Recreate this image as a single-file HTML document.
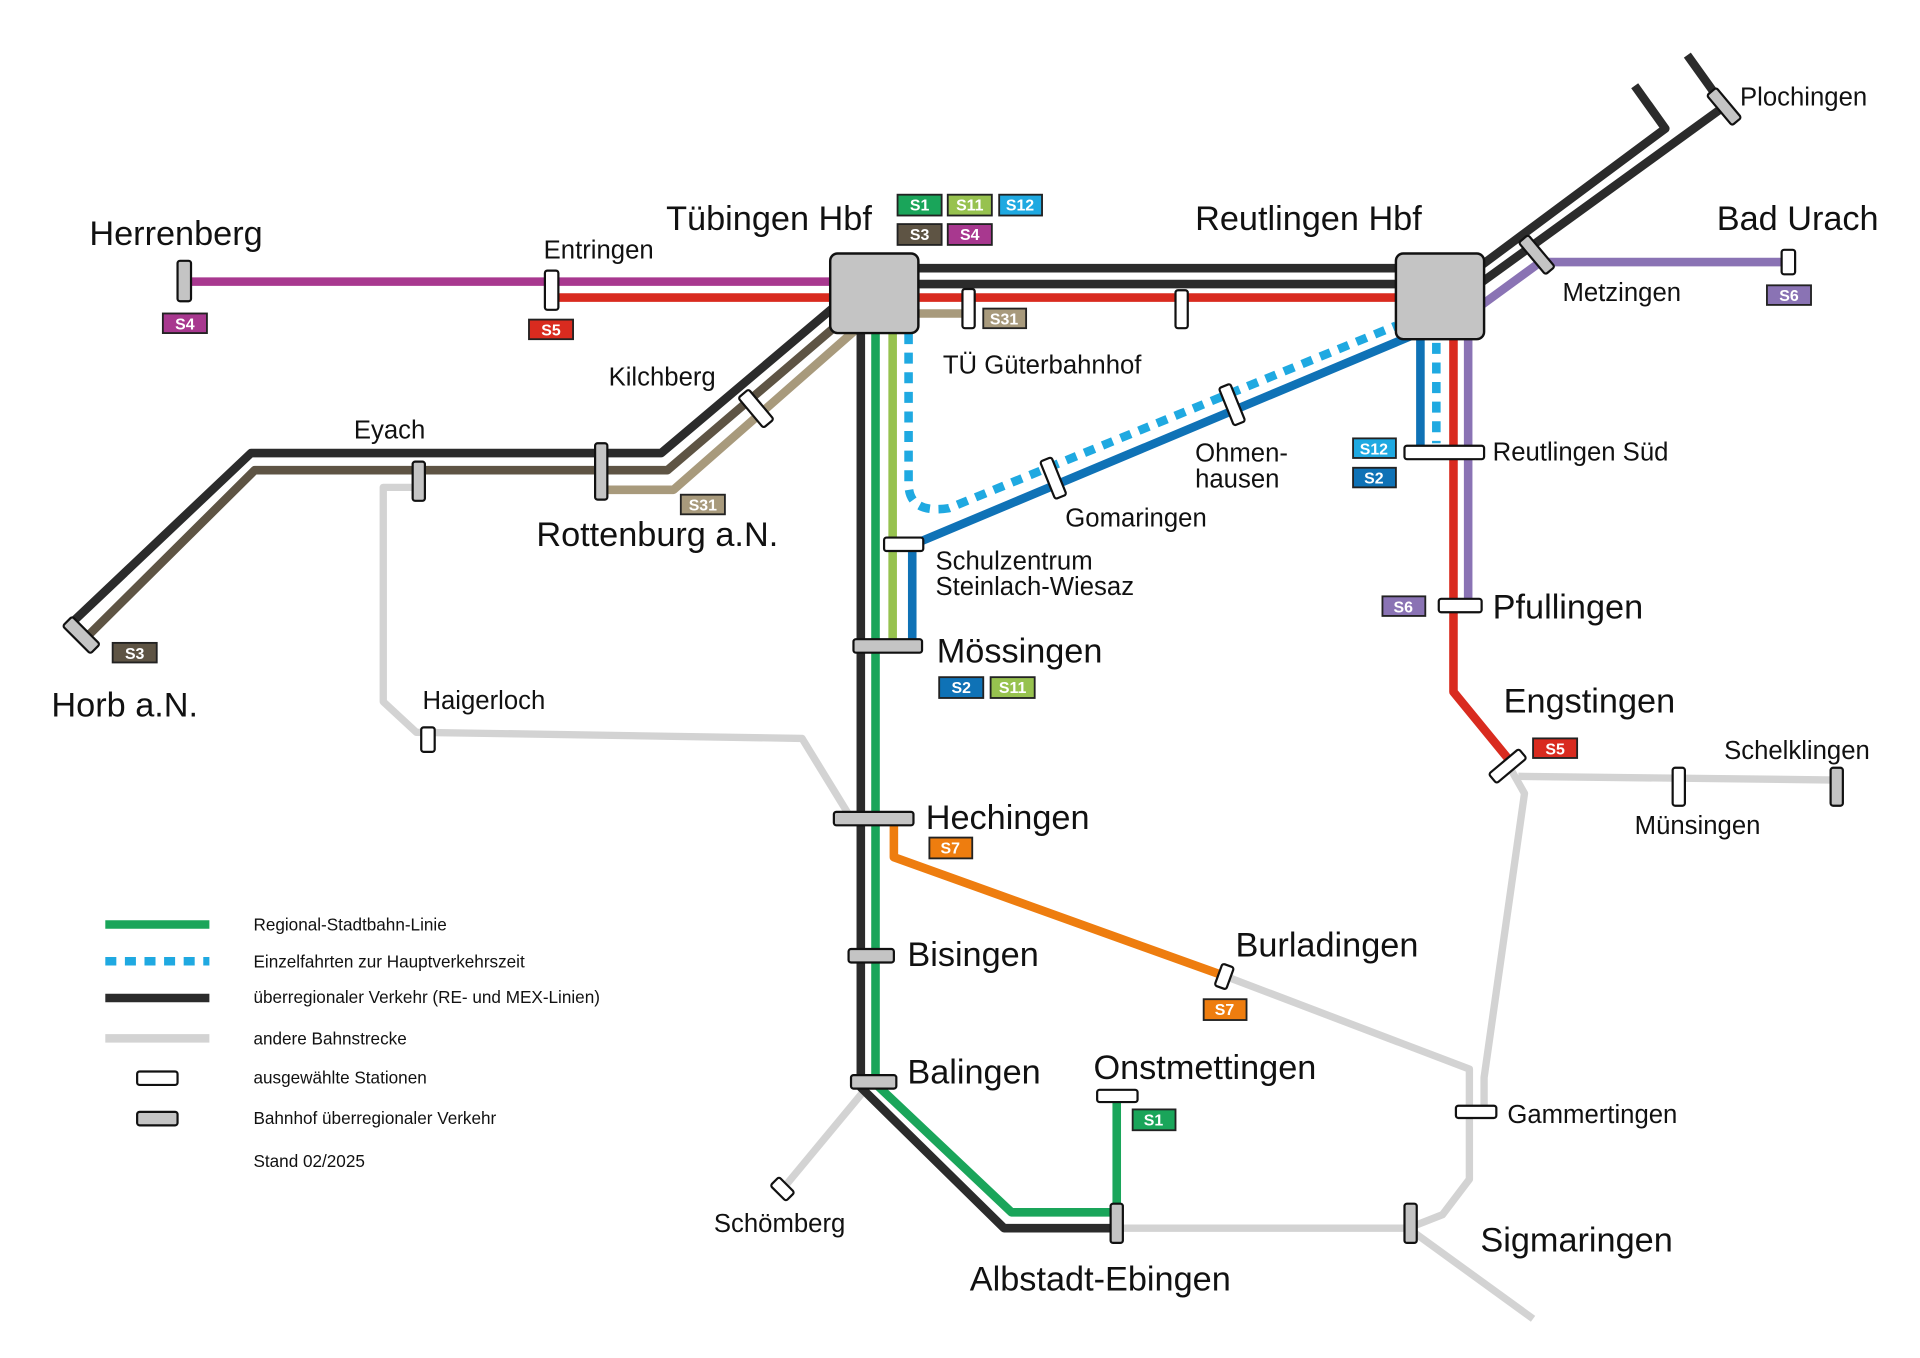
<!DOCTYPE html>
<html><head><meta charset="utf-8"><style>
html,body{margin:0;padding:0;background:#fff}
svg{display:block}
text{font-family:"Liberation Sans Narrow","Liberation Sans",sans-serif;fill:#111}
.b{font-size:28px}.m{font-size:21px}.s{font-size:14px}
.bd text{font-size:13px;fill:#fff;font-weight:bold;text-anchor:middle}
</style></head><body>
<svg width="1920" height="1358" viewBox="0 0 1568 1109" preserveAspectRatio="none" xmlns="http://www.w3.org/2000/svg">
<g fill="none" stroke-linejoin="round">
<g stroke="#d3d3d3" stroke-width="6">
<polyline points="342,398 313,398 313,573 340,598 655,603 693,665"/>
<polyline points="708,888 640,970"/>
<polyline points="912,1003 1150,1003 1178,992 1200,963 1200,873 1000,797"/>
<polyline points="1150,1003 1252,1077"/>
<polyline points="1232,625 1245,648 1212,880 1212,905"/>
<polyline points="1240,634 1500,637"/>
</g>
<line x1="150" y1="230" x2="690" y2="230" stroke="#a8388f" stroke-width="7"/>
<line x1="450" y1="243" x2="1160" y2="243" stroke="#d92b1f" stroke-width="7"/>
<polyline points="1187,270 1187,565 1232,620" stroke="#d92b1f" stroke-width="7"/>
<line x1="740" y1="219" x2="1150" y2="219" stroke="#2b2b2b" stroke-width="7"/>
<line x1="740" y1="232" x2="1150" y2="232" stroke="#2b2b2b" stroke-width="7"/>
<line x1="740" y1="256" x2="790" y2="256" stroke="#a89a7c" stroke-width="7"/>
<polyline points="698,270 550,400 495,400" stroke="#a89a7c" stroke-width="7"/>
<polyline points="690,260 545,384 208,384 68,523" stroke="#5e5444" stroke-width="7"/>
<polyline points="682,250 540,370 205,370 55,512" stroke="#2b2b2b" stroke-width="7"/>
<polyline points="703,265 703,888 820,1003 912,1003" stroke="#2b2b2b" stroke-width="7"/>
<polyline points="715,265 715,885 826,990 912,990 912,895" stroke="#1aa55a" stroke-width="7"/>
<line x1="729" y1="265" x2="729" y2="528" stroke="#97c24f" stroke-width="7"/>
<polyline points="745,528 745,445 1158,272" stroke="#0f72b6" stroke-width="7"/>
<line x1="1160" y1="272" x2="1160" y2="365" stroke="#0f72b6" stroke-width="7"/>
<path d="M742,272 L742,395 Q742,420 775,415 L1140,266" stroke="#1fa9e1" stroke-width="7" stroke-dasharray="9,7"/>
<line x1="1173" y1="280" x2="1173" y2="362" stroke="#1fa9e1" stroke-width="7" stroke-dasharray="9,7"/>
<polyline points="1199,272 1199,495" stroke="#8a73b4" stroke-width="7"/>
<polyline points="1206,252 1258,214 1460,214" stroke="#8a73b4" stroke-width="7"/>
<polyline points="1208,218 1360,105 1335,70" stroke="#2b2b2b" stroke-width="7"/>
<polyline points="1208,232 1408,87 1378,45" stroke="#2b2b2b" stroke-width="7"/>
<polyline points="730,670 730,700 1000,797" stroke="#ee7d0f" stroke-width="7"/>
</g>
<rect x="678" y="207" width="72" height="65" rx="6" fill="#c4c4c4" stroke="#111" stroke-width="2"/>
<rect x="1140" y="207" width="72" height="70" rx="6" fill="#c4c4c4" stroke="#111" stroke-width="2"/>
<g stroke="#111" stroke-width="1.8">
<rect x="145" y="213" width="11" height="33" rx="2" fill="#c4c4c4"/>
<rect x="445" y="221" width="11" height="32" rx="2" fill="#fff"/>
<rect x="786" y="236" width="10" height="32" rx="2" fill="#fff"/>
<rect x="960" y="237" width="10" height="31" rx="2" fill="#fff"/>
<rect x="612" y="318" width="11" height="32" rx="2" fill="#fff" transform="rotate(-40 617 334)"/>
<rect x="486" y="362" width="10" height="46" rx="2" fill="#c4c4c4"/>
<rect x="337" y="377" width="10" height="32" rx="2" fill="#c4c4c4"/>
<rect x="61" y="503" width="11" height="32" rx="2" fill="#c4c4c4" transform="rotate(-45 66 519)"/>
<rect x="344" y="594" width="11" height="20" rx="2" fill="#fff"/>
<rect x="855" y="374" width="10" height="33" rx="2" fill="#fff" transform="rotate(-22 860 390)"/>
<rect x="1001" y="314" width="10" height="33" rx="2" fill="#fff" transform="rotate(-22 1006 330)"/>
<rect x="722" y="439" width="32" height="11" rx="2" fill="#fff"/>
<rect x="697" y="522" width="56" height="11" rx="2" fill="#c4c4c4"/>
<rect x="681" y="663" width="65" height="11" rx="2" fill="#c4c4c4"/>
<rect x="693" y="775" width="37" height="11" rx="2" fill="#c4c4c4"/>
<rect x="695" y="878" width="37" height="11" rx="2" fill="#c4c4c4"/>
<rect x="907" y="983" width="10" height="32" rx="2" fill="#c4c4c4"/>
<rect x="896" y="890" width="33" height="10" rx="2" fill="#fff"/>
<rect x="634" y="962" width="10" height="18" rx="2" fill="#fff" transform="rotate(-45 639 971)"/>
<rect x="1147" y="983" width="10" height="32" rx="2" fill="#c4c4c4"/>
<rect x="995" y="788" width="10" height="19" rx="2" fill="#fff" transform="rotate(20 1000 797)"/>
<rect x="1189" y="903" width="33" height="10" rx="2" fill="#fff"/>
<rect x="1227" y="610" width="10" height="32" rx="2" fill="#fff" transform="rotate(50 1232 625)"/>
<rect x="1366" y="627" width="10" height="31" rx="2" fill="#fff"/>
<rect x="1495" y="627" width="10" height="31" rx="2" fill="#c4c4c4"/>
<rect x="1147" y="364" width="65" height="11" rx="2" fill="#fff"/>
<rect x="1175" y="489" width="35" height="11" rx="2" fill="#fff"/>
<rect x="1455" y="204" width="11" height="20" rx="2" fill="#fff"/>
<rect x="1250" y="191" width="10" height="34" rx="2" fill="#c4c4c4" transform="rotate(-40 1255 208)"/>
<rect x="1403" y="71" width="10" height="32" rx="2" fill="#c4c4c4" transform="rotate(-40 1408 87)"/>
</g>
<g class="bd" stroke="#222" stroke-width="1.5">
<rect x="133" y="256" width="36" height="16" fill="#a8388f"/>
<rect x="432" y="261" width="36" height="16" fill="#d92b1f"/>
<rect x="803" y="252" width="35" height="16" fill="#a89a7c"/>
<rect x="556" y="404" width="36" height="16" fill="#a89a7c"/>
<rect x="92" y="525" width="36" height="16" fill="#5e5444"/>
<rect x="733" y="159" width="36" height="17" fill="#1aa55a"/>
<rect x="774" y="159" width="36" height="17" fill="#97c24f"/>
<rect x="816" y="159" width="35" height="17" fill="#1fa9e1"/>
<rect x="733" y="183" width="36" height="17" fill="#5e5444"/>
<rect x="774" y="183" width="36" height="17" fill="#a8388f"/>
<rect x="767" y="553" width="36" height="17" fill="#0f72b6"/>
<rect x="809" y="553" width="36" height="17" fill="#97c24f"/>
<rect x="759" y="684" width="35" height="17" fill="#ee7d0f"/>
<rect x="983" y="816" width="35" height="17" fill="#ee7d0f"/>
<rect x="925" y="906" width="35" height="17" fill="#1aa55a"/>
<rect x="1105" y="358" width="35" height="16" fill="#1fa9e1"/>
<rect x="1105" y="382" width="35" height="16" fill="#0f72b6"/>
<rect x="1129" y="487" width="35" height="16" fill="#8a73b4"/>
<rect x="1252" y="603" width="36" height="16" fill="#d92b1f"/>
<rect x="1443" y="233" width="36" height="16" fill="#8a73b4"/>
</g>
<g class="bd">
<text x="151" y="269">S4</text><text x="450" y="274">S5</text><text x="820" y="265">S31</text>
<text x="574" y="417">S31</text><text x="110" y="538">S3</text>
<text x="751" y="172">S1</text><text x="792" y="172">S11</text><text x="833" y="172">S12</text>
<text x="751" y="196">S3</text><text x="792" y="196">S4</text>
<text x="785" y="566">S2</text><text x="827" y="566">S11</text>
<text x="776" y="697">S7</text><text x="1000" y="829">S7</text><text x="942" y="919">S1</text>
<text x="1122" y="371">S12</text><text x="1122" y="395">S2</text><text x="1146" y="500">S6</text>
<text x="1270" y="616">S5</text><text x="1461" y="246">S6</text>
</g>
<text class="b" x="73" y="200">Herrenberg</text>
<text class="m" x="444" y="211">Entringen</text>
<text class="b" x="544" y="188">Tübingen Hbf</text>
<text class="b" x="976" y="188">Reutlingen Hbf</text>
<text class="b" x="1402" y="188">Bad Urach</text>
<text class="m" x="1421" y="86">Plochingen</text>
<text class="m" x="1276" y="246">Metzingen</text>
<text class="m" x="497" y="315">Kilchberg</text>
<text class="m" x="289" y="358">Eyach</text>
<text class="b" x="438" y="446">Rottenburg a.N.</text>
<text class="b" x="42" y="585">Horb a.N.</text>
<text class="m" x="345" y="579">Haigerloch</text>
<text class="m" x="770" y="305">TÜ Güterbahnhof</text>
<text class="m" x="976" y="377">Ohmen-</text>
<text class="m" x="976" y="398">hausen</text>
<text class="m" x="870" y="430">Gomaringen</text>
<text class="m" x="764" y="465">Schulzentrum</text>
<text class="m" x="764" y="486">Steinlach-Wiesaz</text>
<text class="b" x="765" y="541">Mössingen</text>
<text class="m" x="1219" y="376">Reutlingen Süd</text>
<text class="b" x="1219" y="505">Pfullingen</text>
<text class="b" x="1228" y="582">Engstingen</text>
<text class="m" x="1408" y="620">Schelklingen</text>
<text class="m" x="1335" y="681">Münsingen</text>
<text class="b" x="756" y="677">Hechingen</text>
<text class="b" x="741" y="789">Bisingen</text>
<text class="b" x="1009" y="781">Burladingen</text>
<text class="b" x="741" y="885">Balingen</text>
<text class="b" x="893" y="881">Onstmettingen</text>
<text class="m" x="1231" y="917">Gammertingen</text>
<text class="m" x="583" y="1006">Schömberg</text>
<text class="b" x="792" y="1054">Albstadt-Ebingen</text>
<text class="b" x="1209" y="1022">Sigmaringen</text>
<line x1="86" y1="755" x2="171" y2="755" stroke="#1aa55a" stroke-width="7"/>
<line x1="86" y1="785" x2="171" y2="785" stroke="#1fa9e1" stroke-width="7" stroke-dasharray="9,7"/>
<line x1="86" y1="815" x2="171" y2="815" stroke="#2b2b2b" stroke-width="7"/>
<line x1="86" y1="848" x2="171" y2="848" stroke="#d3d3d3" stroke-width="7"/>
<rect x="112" y="875" width="33" height="11" rx="2" fill="#fff" stroke="#111" stroke-width="1.8"/>
<rect x="112" y="908" width="33" height="11" rx="2" fill="#c4c4c4" stroke="#111" stroke-width="1.8"/>
<text class="s" x="207" y="760">Regional-Stadtbahn-Linie</text>
<text class="s" x="207" y="790">Einzelfahrten zur Hauptverkehrszeit</text>
<text class="s" x="207" y="819">überregionaler Verkehr (RE- und MEX-Linien)</text>
<text class="s" x="207" y="853">andere Bahnstrecke</text>
<text class="s" x="207" y="885">ausgewählte Stationen</text>
<text class="s" x="207" y="918">Bahnhof überregionaler Verkehr</text>
<text class="s" x="207" y="953">Stand 02/2025</text>
</svg>
</body></html>
